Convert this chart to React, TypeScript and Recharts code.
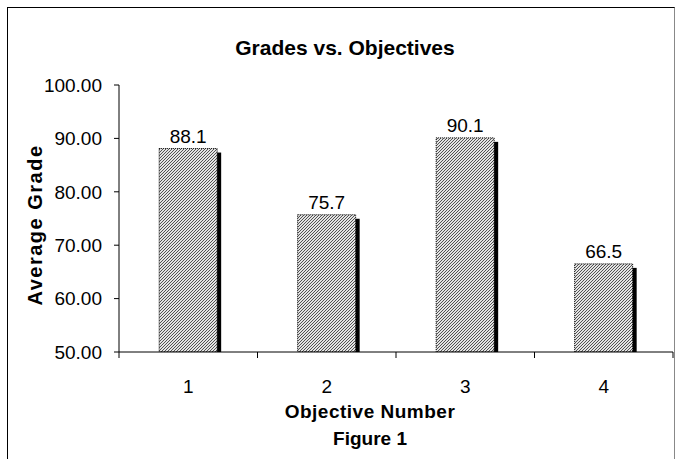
import React from 'react';
import { BarChart, Bar, XAxis, YAxis, LabelList } from 'recharts';

const objectives = ['1', '2', '3', '4'];
const grades = [88.1, 75.7, 90.1, 66.5];
const gradeTicks = [50, 60, 70, 80, 90, 100];

const data = objectives.map((o, i) => ({ objective: o, grade: grades[i] }));

const FONT = '"Liberation Sans", Arial, sans-serif';
const W = 679;
const H = 459;
const PLOT_LEFT = 119;
const PLOT_RIGHT = 673;
const BAND = (PLOT_RIGHT - PLOT_LEFT) / objectives.length;

// bar with a black drop shadow and a hatched fill, like the old excel look
const ShadowBar = (props: any) => {
  const { x, y, width, height } = props;
  if (!height || height <= 0) return null;
  return (
    <g>
      <rect x={x + 4} y={y + 4} width={width} height={height - 4} fill="#000" />
      <rect
        x={x}
        y={y}
        width={width}
        height={height}
        fill="url(#hatch)"
        stroke="#000"
        strokeWidth={1}
        strokeDasharray="1 1"
      />
    </g>
  );
};

// tick marks sit between categories, labels in the middle
const CategoryTick = (props: any) => {
  const { x, y, payload, index } = props;
  return (
    <g>
      {index === 0 && <line x1={x - BAND / 2} y1={y} x2={x - BAND / 2} y2={y + 6} stroke="#000" />}
      <line x1={x + BAND / 2} y1={y} x2={x + BAND / 2} y2={y + 6} stroke="#000" />
      <text x={x} y={y + 41} textAnchor="middle" fontSize={19} fontFamily={FONT} fill="#000">
        {payload.value}
      </text>
    </g>
  );
};

const textStyle: React.CSSProperties = {
  position: 'absolute',
  textAlign: 'center',
  fontFamily: FONT,
  fontWeight: 'bold',
  color: '#000',
  whiteSpace: 'nowrap',
};

export default function App() {
  return (
    <div style={{ position: 'absolute', left: 0, top: 0, width: W, height: H, background: '#fff', overflow: 'hidden' }}>
      <div
        style={{
          position: 'absolute',
          left: 7,
          top: 7,
          width: 666,
          height: 480,
          borderLeft: '1px solid #000',
          borderTop: '1px solid #000',
          borderRight: '1px solid #888',
        }}
      />
      <div style={{ ...textStyle, left: 145, width: 400, top: 36, fontSize: 21, lineHeight: '23px' }}>
        Grades vs. Objectives
      </div>
      <div style={{ ...textStyle, left: 170, width: 400, top: 401, fontSize: 19, lineHeight: '22px', letterSpacing: 0.5 }}>
        Objective Number
      </div>
      <div style={{ ...textStyle, left: 170, width: 400, top: 428, fontSize: 19, lineHeight: '22px' }}>Figure 1</div>
      <div style={{ position: 'absolute', left: 0, top: 0 }}>
        <BarChart
          width={W}
          height={H}
          data={data}
          margin={{ top: 85, right: W - PLOT_RIGHT, bottom: 67, left: 8 }}
          barCategoryGap="29%"
        >
          <defs>
            <pattern id="hatch" width="3" height="3" patternUnits="userSpaceOnUse">
              <rect width="3" height="3" fill="#e4e4e4" />
              <path d="M0,3 L3,0 M-1,1 L1,-1 M2,4 L4,2" stroke="#222" strokeWidth={0.75} />
            </pattern>
          </defs>
          <XAxis
            dataKey="objective"
            axisLine={{ stroke: '#000' }}
            tickLine={false}
            tickSize={0}
            tickMargin={0}
            height={40}
            tick={<CategoryTick />}
            interval={0}
          />
          <XAxis xAxisId="top" dataKey="objective" orientation="top" height={0} tick={false} axisLine={{ stroke: '#000' }} tickLine={false} />
          <YAxis
            domain={[50, 100]}
            ticks={gradeTicks}
            width={111}
            tickFormatter={(v: number) => v.toFixed(2)}
            axisLine={{ stroke: '#000' }}
            tickLine={{ stroke: '#000' }}
            tickSize={5}
            tickMargin={12}
            tick={{ fill: '#000', fontSize: 19, fontFamily: FONT }}
            allowDataOverflow
          />
          <YAxis yAxisId="right" orientation="right" width={0} tick={false} axisLine={{ stroke: '#000' }} tickLine={false} />
          <Bar dataKey="grade" shape={<ShadowBar />} isAnimationActive={false}>
            <LabelList
              dataKey="grade"
              position="top"
              offset={6}
              formatter={(v: number) => v.toFixed(1)}
              style={{ fontFamily: FONT, fontSize: 19, fill: '#000' }}
            />
          </Bar>
        </BarChart>
      </div>
      <svg width={W} height={H} style={{ position: 'absolute', left: 0, top: 0, pointerEvents: 'none' }}>
        <text
          transform="translate(42, 225) rotate(-90)"
          textAnchor="middle"
          fontFamily={FONT}
          fontWeight="bold"
          fontSize={20}
          letterSpacing={1.5}
          fill="#000"
        >
          Average Grade
        </text>
      </svg>
    </div>
  );
}
